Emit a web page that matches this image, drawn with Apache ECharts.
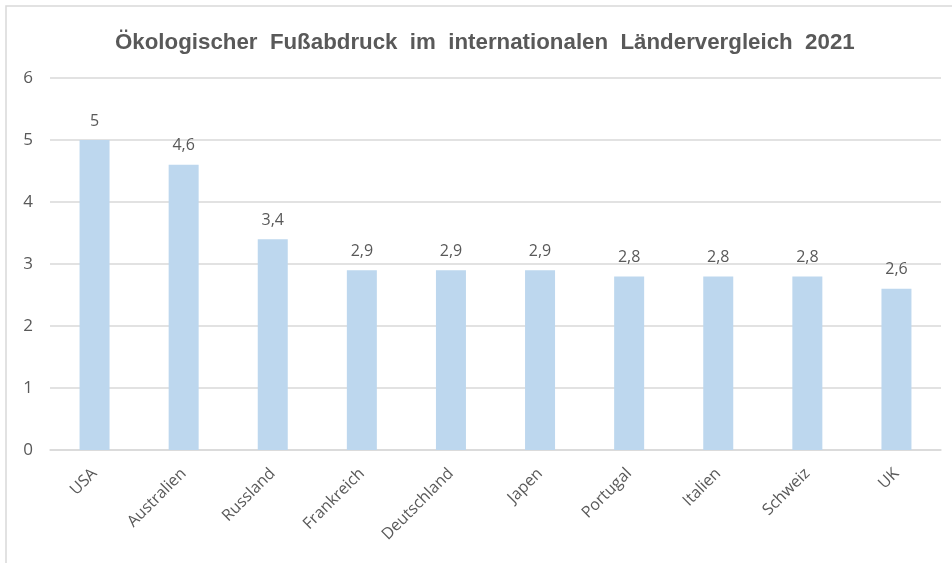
<!DOCTYPE html>
<html><head><meta charset="utf-8">
<script src="https://cdn.jsdelivr.net/npm/echarts@6/dist/echarts.min.js"></script>
<style>html,body{margin:0;padding:0;background:#fff}#c{width:952px;height:563px}</style>
</head><body><div id="c"></div>
<script>
const categories = ["USA","Australien","Russland","Frankreich","Deutschland","Japen","Portugal","Italien","Schweiz","UK"];
const values = [5, 4.6, 3.4, 2.9, 2.9, 2.9, 2.8, 2.8, 2.8, 2.6];
const yTicks = [0,1,2,3,4,5,6];
const titleText = "Ökologischer  Fußabdruck  im  internationalen  Ländervergleich  2021";

const chart = echarts.init(document.getElementById('c'), null, {renderer:'canvas'});
chart.setOption({
  animation:false,
  backgroundColor:'#fff',
  graphic:[{type:'rect', shape:{x:6,y:6,width:1000,height:1000}, style:{fill:'none', stroke:'#d9d9d9', lineWidth:1.5}}],
  title:{text:titleText, left:110, top:27, textStyle:{fontFamily:'"Liberation Sans",Arial,sans-serif', fontSize:22.3, fontWeight:'bold', color:'#595959'}},
  grid:{left:50, right:11, top:78, bottom:113, containLabel:false},
  xAxis:{type:'category', data:categories,
    axisLine:{lineStyle:{color:'#d9d9d9', width:1.5}}, axisTick:{show:false},
    axisLabel:{rotate:45, margin:21, color:'#595959', fontSize:16, fontFamily:'"Open Sans","Noto Sans",sans-serif', interval:0}},
  yAxis:{type:'value', min:yTicks[0], max:yTicks[yTicks.length-1], interval:1,
    axisLine:{show:false}, axisTick:{show:false},
    splitLine:{lineStyle:{color:'#d9d9d9', width:1.5}},
    axisLabel:{margin:17, color:'#595959', fontSize:17, fontFamily:'"Open Sans","Noto Sans",sans-serif'}},
  series:[{type:'bar', data:values, barWidth:30, itemStyle:{color:'#BDD7EE'},
    label:{show:true, position:'top', distance:11, color:'#595959', fontSize:16,
      fontFamily:'"Open Sans","Noto Sans",sans-serif',
      formatter:p=>String(p.value).replace('.',',')}}]
});
</script></body></html>
